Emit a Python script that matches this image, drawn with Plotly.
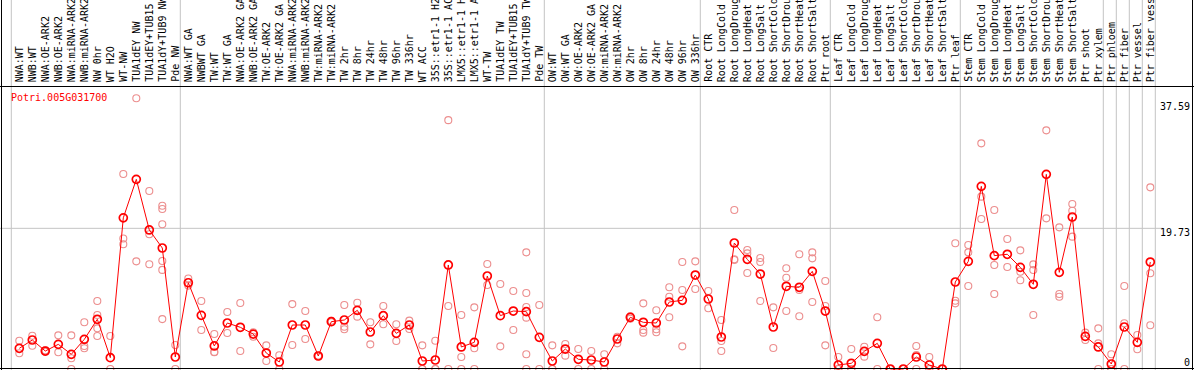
import plotly.graph_objects as go

labels = ["NWA:WT", "NWB:WT", "NWA:OE-ARK2", "NWB:OE-ARK2", "NWA:miRNA-ARK2", "NWB:miRNA-ARK2",
          "NW 0hr", "WT H2O", "WT-NW", "TUA1dEY NW", "TUA1dEY+TUB15 NW", "TUA1dY+TUB9 NW", "Pde NW",
          "NWA:WT GA", "NWBWT GA", "TW:WT", "TW:WT GA", "NWA:OE-ARK2 GA", "NWB:OE-ARK2 GA",
          "TW:OE-ARK2", "TW:OE-ARK2 GA", "NWA:miRNA-ARK2", "NWB:miRNA-ARK2", "TW:miRNA-ARK2",
          "TW:miRNA-ARK2", "TW 2hr", "TW 8hr", "TW 24hr", "TW 48hr", "TW 96hr", "TW 336hr", "WT ACC",
          "35S::etr1-1 H2O", "35S::etr1-1 ACC", "LMX5::etr1-1 H2O", "LMX5::etr1-1 ACC", "WT-TW",
          "TUA1dEY TW", "TUA1dEY+TUB15 TW", "TUA1dY+TUB9 TW", "Pde TW",
          "OW:WT", "OW:WT GA", "OW:OE-ARK2", "OW:OE-ARK2 GA", "OW:miRNA-ARK2", "OW:miRNA-ARK2",
          "OW 2hr", "OW 8hr", "OW 24hr", "OW 48hr", "OW 96hr", "OW 336hr",
          "Root CTR", "Root LongCold", "Root LongDrought", "Root LongHeat", "Root LongSalt",
          "Root ShortCold", "Root ShortDrought", "Root ShortHeat", "Root ShortSalt", "Ptr root",
          "Leaf CTR", "Leaf LongCold", "Leaf LongDrought", "Leaf LongHeat", "Leaf LongSalt",
          "Leaf ShortCold", "Leaf ShortDrought", "Leaf ShortHeat", "Leaf ShortSalt", "Ptr leaf",
          "Stem CTR", "Stem LongCold", "Stem LongDrought", "Stem LongHeat", "Stem LongSalt",
          "Stem ShortCold", "Stem ShortDrought", "Stem ShortHeat", "Stem ShortSalt", "Ptr shoot",
          "Ptr xylem", "Ptr phloem", "Ptr fiber", "Ptr vessel", "Ptr fiber vessel"]

means = [2.9, 4.07, 2.52, 3.46, 2.06, 4.16, 6.97, 1.59, 21.2, 26.6, 19.5, 16.97, 1.68,
         12.1, 7.53, 3.23, 6.45, 5.85, 4.9, 2.24, 0.98, 6.17, 6.17, 1.82, 6.64, 6.87, 8.23, 5.19,
         7.48, 5.0, 6.17, 1.12, 1.26, 14.59, 3.09, 3.74, 13.04, 7.48, 8.13, 8.04, 4.44,
         1.12, 2.8, 1.36, 1.26, 0.98, 4.21, 7.25, 6.55, 6.45, 9.4, 9.63, 13.18,
         9.82, 4.49, 17.67, 15.38, 13.32, 5.89, 11.6, 11.46, 13.7, 8.13,
         0.56, 0.8, 2.48, 3.6, 0.0, 0.0, 1.68, 0.56, 0.0, 12.2,
         15.1, 25.62, 15.9, 16.09, 14.26, 11.88, 27.3, 13.56, 21.32, 4.58,
         3.09, 0.7, 5.89, 3.74, 15.0]

replicates = [[3.97, 2.2], [4.67, 3.27], [2.62, 2.42], [4.72, 2.34], [4.72, 1.5, 0],
              [6.55, 3.23, 2.9], [9.54, 7.57, 5.7, 4.63], [4.63, 0], [27.35, 18.3, 17.5],
              [37.97, 15.1], [24.96, 18.9, 14.7], [22.9, 22.44, 20.3, 15.15, 13.9, 7.0], [3.37, 0],
              [12.7, 11.7], [9.54, 5.47], [4.9, 2.34, 2.4], [8.0, 5.05], [9.26, 2.52], [5.15, 4.53],
              [3.32, 1.12], [1.92, 0], [9.1, 3.37], [8.13, 4.2], [1.9, 1.75], [6.55, 6.75],
              [8.98, 5.93, 5.57], [9.3, 7.34], [6.55, 3.46], [8.84, 6.27], [6.27, 3.93],
              [6.78, 5.61], [3.32, 0, 0], [3.97, 0, 0], [34.9, 8.84, 0], [7.57, 1.68, 0],
              [8.65, 2.9, 0], [14.73, 11.78], [11.92, 3.18], [10.94, 5.47],
              [16.36, 10.66, 8.7, 7.2, 2.06, 0], [8.98, 0],
              [3.32, 0, 0], [3.5, 1.87], [2.8, 0], [2.52, 0], [2.06, 0], [4.53, 3.6], [7.4, 7.05],
              [9.21, 5.47, 5.1], [8.23, 5.57, 5.15], [11.46, 10.14, 7.25], [15.0, 11.08, 3.18],
              [15.1, 11.22],
              [10.94, 8.51], [6.87, 3.93, 2.52], [22.3, 15.29, 15.4], [16.69, 16.22, 13.46],
              [15.57, 15.0, 9.54], [8.65, 2.95], [14.12, 12.8, 8.13], [16.09, 11.08, 7.39],
              [16.36, 15.52, 9.4], [12.34, 8.84, 3.32],
              [1.68, 0, 0], [2.8, 0, 0], [3.13, 1.73], [7.25, 0], [0, 0], [0, 0], [3.23, 1.96, 0],
              [1.68, 0, 0], [0, 0], [17.63, 9.58, 9.21],
              [17.39, 16.36, 11.64], [31.65, 24.17, 21.04], [22.3, 14.59, 10.52], [18.23, 14.31],
              [16.64, 13.65, 12.44], [14.68, 13.88, 7.57], [33.47, 21.13], [19.87, 10.52, 10.14],
              [23.14, 22.2, 18.56], [5.1, 4.07],
              [5.7, 3.6, 0], [2.06, 0, 0], [11.64, 6.41, 0], [4.77, 2.76], [25.48, 13.42, 6.13]]

title = "Potri.005G031700"
ytick_vals = [37.59, 19.73, 0]
ytick_text = ["37.59", "19.73", "0"]
group_ends = [0, 13, 41, 53, 63, 73, 84, 85, 86, 87, 88]

W, H = 1194, 370
PX_PER_CAT = 13.0
X0_PX = 19.3
PX_PER_UNIT = 7.13
Y0_PX = 369.0

xr = [1 - X0_PX / PX_PER_CAT, 1 + (W - X0_PX) / PX_PER_CAT]
yr = [-(H - Y0_PX) / PX_PER_UNIT, Y0_PX / PX_PER_UNIT]

xs = list(range(1, len(labels) + 1))
rx, ry = [], []
for i, reps in zip(xs, replicates):
    for v in reps:
        rx.append(i)
        ry.append(v)

mono = "DejaVu Sans Mono"
fig = go.Figure()
fig.add_trace(go.Scatter(x=rx, y=ry, mode="markers", cliponaxis=False,
                         marker=dict(symbol="circle-open", size=7, color="#EC8E8E",
                                     line=dict(width=1.1, color="#EC8E8E")),
                         hoverinfo="skip", showlegend=False))
fig.add_trace(go.Scatter(x=xs, y=means, mode="lines+markers",
                         line=dict(color="#FF0000", width=1),
                         marker=dict(symbol="circle-open", size=8, color="#FF0000",
                                     line=dict(width=1.7, color="#FF0000")),
                         showlegend=False))

shapes = []
grid = "#C4C4C4"
for k in group_ends:
    gx = k + 5.0 / PX_PER_CAT
    shapes.append(dict(type="line", xref="x", yref="paper", x0=gx, x1=gx, y0=0, y1=1,
                       line=dict(color=grid, width=1), layer="below"))
shapes.append(dict(type="line", xref="paper", yref="y", x0=0, x1=1163 / W, y0=19.73, y1=19.73,
                   line=dict(color=grid, width=1), layer="below"))
# borders
top_p = 1 - 86.5 / H
bot_p = 1 - 368.5 / H
shapes += [
    dict(type="line", xref="paper", yref="paper", x0=0, x1=1, y0=top_p, y1=top_p,
         line=dict(color="black", width=1)),
    dict(type="line", xref="paper", yref="paper", x0=0, x1=1, y0=bot_p, y1=bot_p,
         line=dict(color="black", width=1)),
    dict(type="line", xref="paper", yref="paper", x0=1.5 / W, x1=1.5 / W, y0=0, y1=1,
         line=dict(color="black", width=1)),
    dict(type="line", xref="paper", yref="paper", x0=1192.5 / W, x1=1192.5 / W, y0=0, y1=1,
         line=dict(color="black", width=1)),
]

ann = []
for i, lab in zip(xs, labels):
    ann.append(dict(x=i, xref="x", y=1 - 84 / H, yref="paper", text=lab, textangle=-90,
                    showarrow=False, xanchor="center", yanchor="bottom",
                    font=dict(family=mono, size=10, color="black")))
yshifts = [-5.5, -4, 7]
for v, t, s in zip(ytick_vals, ytick_text, yshifts):
    ann.append(dict(x=1192 / W, xref="paper", y=v, yref="y", yshift=s, text=t, showarrow=False,
                    xanchor="right", yanchor="middle",
                    font=dict(family=mono, size=10, color="black")))
ann.append(dict(x=9 / W, xref="paper", y=1 - 97 / H, yref="paper", text=title, showarrow=False,
                xanchor="left", yanchor="middle", font=dict(family=mono, size=10, color="#FF0000")))

fig.update_layout(width=W, height=H, margin=dict(l=0, r=0, t=0, b=0),
                  paper_bgcolor="white", plot_bgcolor="white",
                  xaxis=dict(range=xr, visible=False, showgrid=False, zeroline=False, fixedrange=True),
                  yaxis=dict(range=yr, visible=False, showgrid=False, zeroline=False, fixedrange=True),
                  shapes=shapes, annotations=ann, hovermode=False)
fig.write_html("out.html", config={"displayModeBar": False},
               post_script="document.body.style.margin='0';document.body.style.overflow='hidden';")
